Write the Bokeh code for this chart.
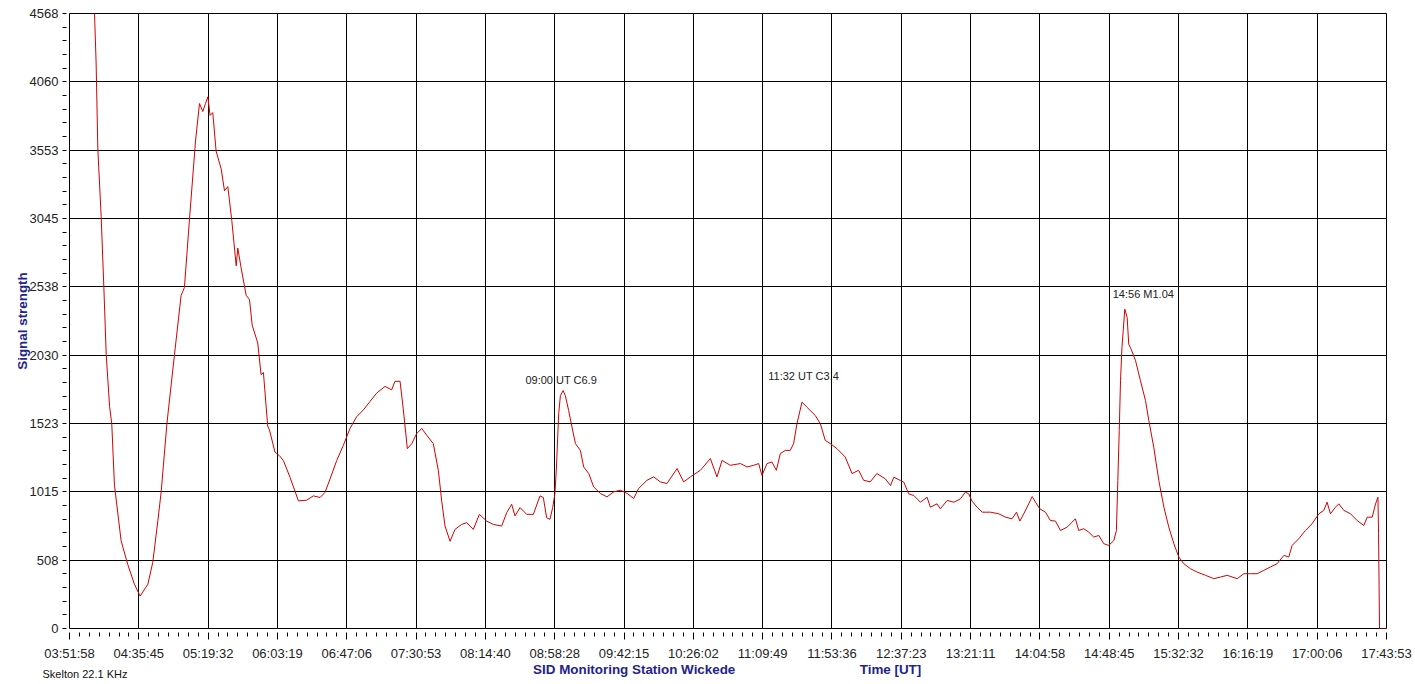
from bokeh.plotting import figure
from bokeh.layouts import column
from bokeh.models import FixedTicker, Label, ColumnDataSource, Range1d
from bokeh.embed import file_html
from bokeh.resources import INLINE

# ---- data -----------------------------------------------------------
x_tick_labels = ["03:51:58", "04:35:45", "05:19:32", "06:03:19", "06:47:06",
                 "07:30:53", "08:14:40", "08:58:28", "09:42:15", "10:26:02",
                 "11:09:49", "11:53:36", "12:37:23", "13:21:11", "14:04:58",
                 "14:48:45", "15:32:32", "16:16:19", "17:00:06", "17:43:53"]
y_tick_labels = [0, 508, 1015, 1523, 2030, 2538, 3045, 3553, 4060, 4568]

# minutes elapsed since 03:51:58 UT
elapsed_min = [
    15.8, 16.8, 17.9, 20.0, 21.7, 23.2, 25.3, 26.7, 28.4, 32.6, 36.8, 41.0, 44.6,
    49.5, 52.6, 55.8, 57.9, 61.5, 66.3, 70.5, 72.6, 75.8, 79.6, 82.1, 84.2, 85.9,
    87.4, 88.8, 90.5, 92.6, 95.8, 97.9, 100.0, 102.5, 105.3, 106.3, 108.4, 111.6,
    113.7, 115.4, 118.9, 121.0, 122.5, 125.2, 126.3, 129.8, 132.6, 135.1, 139.3,
    144.6, 149.8, 154.0, 158.3, 161.4, 164.6, 168.8, 173.0, 177.2, 181.4, 185.6,
    189.8, 194.0, 199.3, 203.5, 205.6, 208.8, 210.9, 213.4, 216.2, 219.3, 222.5,
    225.6, 229.8, 233.0, 235.1, 237.2, 240.4, 243.5, 247.7, 250.9, 255.1, 258.9,
    263.5, 267.7, 273.0, 276.2, 279.3, 281.4, 284.6, 288.8, 293.0, 297.2, 299.3,
    301.4, 303.5, 305.2, 306.6, 307.6, 309.0, 310.1, 311.8, 313.2, 315.3, 317.4,
    319.6, 322.7, 324.8, 328.0, 331.1, 335.3, 339.5, 343.8, 348.0, 352.2, 356.4,
    359.5, 364.8, 369.0, 373.2, 377.4, 383.8, 387.9, 392.2, 398.5, 404.8, 409.0,
    412.2, 417.4, 423.8, 428.0, 432.2, 435.3, 437.4, 440.6, 443.7, 446.5, 449.0,
    452.2, 455.3, 457.4, 459.5, 462.7, 465.8, 471.1, 474.3, 477.4, 480.6, 484.8,
    490.0, 494.3, 498.5, 501.6, 505.8, 510.0, 515.4, 518.6, 520.7, 524.9, 527.0,
    530.1, 533.3, 537.5, 541.7, 543.8, 548.0, 550.1, 554.4, 558.6, 562.8, 565.9,
    568.0, 570.1, 573.3, 576.5, 581.7, 587.0, 591.2, 595.4, 598.2, 600.3, 602.8,
    605.9, 608.1, 610.2, 612.9, 616.5, 619.6, 622.8, 626.0, 630.2, 633.3, 635.4,
    637.5, 640.7, 643.8, 647.0, 650.2, 653.3, 656.5, 659.7, 661.3, 662.2, 663.1,
    663.9, 664.8, 665.6, 666.6, 668.1, 669.1, 670.6, 673.4, 676.5, 679.7, 681.8,
    684.9, 688.1, 691.3, 694.4, 697.6, 700.7, 703.9, 708.1, 712.3, 717.6, 722.8,
    727.0, 731.3, 737.6, 741.8, 746.0, 750.2, 754.4, 758.6, 762.8, 767.1, 770.2,
    772.3, 776.5, 780.7, 784.9, 789.2, 792.3, 794.4, 796.5, 799.7, 801.8, 805.0,
    809.2, 813.4, 817.6, 819.7, 822.9, 825.0, 826.5, 826.9, 827.3, 827.5, 831.9]

signal = [
    4568, 4207, 3561, 3061, 2533, 2033, 1651, 1519, 1064, 652, 476, 329, 241,
    329, 491, 799, 1014, 1519, 2033, 2474, 2533, 3041, 3620, 3899, 3840, 3899,
    3949, 3811, 3832, 3546, 3414, 3252, 3282, 3032, 2694, 2826, 2679, 2474,
    2444, 2253, 2121, 1886, 1901, 1504, 1475, 1310, 1284, 1248, 1123,
    948, 953, 985, 973, 1011, 1111, 1248, 1361, 1486, 1573, 1623,
    1686, 1748, 1798, 1773, 1836, 1836, 1623, 1336, 1373, 1448, 1486,
    1436, 1373, 1173, 948, 761, 648, 736, 773, 786, 736, 848,
    798, 773, 761, 861, 923, 836, 898, 848, 848, 985, 973,
    823, 811, 898, 1000, 1200, 1595, 1730, 1767, 1730, 1619, 1496,
    1373, 1323, 1200, 1151, 1052, 1003, 978, 1015, 1027, 1003, 966,
    1040, 1101, 1126, 1089, 1077, 1188, 1089, 1126, 1175, 1262, 1126,
    1249, 1212, 1225, 1200, 1212, 1225, 1138, 1225, 1237, 1175, 1299,
    1323, 1323, 1373, 1521, 1681, 1644, 1582, 1521, 1397, 1373, 1336,
    1274, 1151, 1175, 1101, 1089, 1151, 1111, 1062, 1124, 1099, 1087,
    1000, 988, 938, 975, 901, 926, 889, 951, 938, 963, 1013,
    1000, 946, 901, 864, 864, 852, 827, 815, 864, 798, 852,
    926, 980, 938, 889, 864, 802, 798, 728, 753, 790, 815,
    728, 741, 716, 679, 691, 630, 617, 654, 728, 1099, 1470,
    1840, 2087, 2211, 2372, 2310, 2112, 2075, 1989, 1840, 1692, 1544,
    1346, 1099, 901, 753, 630, 531, 481, 444, 419, 395, 370,
    382, 395, 370, 407, 407, 407, 432, 457, 481, 543, 531,
    617, 667, 728, 778, 852, 877, 938, 852, 901, 926, 877,
    852, 802, 765, 827, 827, 926, 975, 704, 234, 0, 0]

flare_text = ["09:00 UT C6.9", "11:32 UT C3.4", "14:56 M1.04"]
flare_label_min = [288.0, 441.4, 659.0]
flare_label_val = [1849, 1872, 2481]

station_text = "Skelton 22.1 KHz"
footer_text = ["SID Monitoring Station Wickede", "Time [UT]"]

# ---- helpers --------------------------------------------------------
def secs(s):
    h, m, sec = (int(v) for v in s.split(":"))
    return h * 3600 + m * 60 + sec

t0 = secs(x_tick_labels[0])
x_ticks = [secs(s) - t0 for s in x_tick_labels]
X_SUB = 7
x_minor = []
for a, b in zip(x_ticks[:-1], x_ticks[1:]):
    for k in range(1, X_SUB):
        x_minor.append(a + (b - a) * k / float(X_SUB))
y_minor = []
for a, b in zip(y_tick_labels[:-1], y_tick_labels[1:]):
    for k in range(1, 5):
        y_minor.append(a + (b - a) * k / 5.0)

src = ColumnDataSource(data=dict(x=[m * 60.0 for m in elapsed_min], y=signal))

FONT = "Liberation Sans"
NAVY = "#23238c"

p = figure(frame_width=1317, frame_height=615,
           min_border_left=69, min_border_right=29,
           min_border_top=13, min_border_bottom=33,
           x_range=Range1d(0, x_ticks[-1]), y_range=Range1d(0, y_tick_labels[-1]),
           output_backend="svg", toolbar_location=None)

p.background_fill_color = "white"
p.border_fill_color = "white"
p.outline_line_color = "black"
p.outline_line_width = 1

p.line("x", "y", source=src, line_color="#d40000", line_width=1)

# x axis
xa = p.xaxis[0]
xa.ticker = FixedTicker(ticks=x_ticks, minor_ticks=x_minor)
xa.major_label_overrides = {t: lab for t, lab in zip(x_ticks, x_tick_labels)}
xa.axis_line_color = None
xa.major_tick_line_color = "black"
xa.minor_tick_line_color = "black"
xa.major_tick_in = -4
xa.major_tick_out = 11
xa.minor_tick_in = -4
xa.minor_tick_out = 8
xa.major_label_standoff = 6
xa.major_label_text_font = FONT
xa.major_label_text_font_size = "13px"
xa.major_label_text_color = "#222222"

# y axis
ya = p.yaxis[0]
ya.ticker = FixedTicker(ticks=y_tick_labels, minor_ticks=y_minor)
ya.major_label_overrides = {t: str(t) for t in y_tick_labels}
ya.axis_line_color = None
ya.major_tick_line_color = "black"
ya.minor_tick_line_color = "black"
ya.major_tick_in = -3
ya.major_tick_out = 7
ya.minor_tick_in = -3
ya.minor_tick_out = 7
ya.major_label_standoff = 4
ya.major_label_text_font = FONT
ya.major_label_text_font_size = "13px"
ya.major_label_text_color = "#222222"
ya.axis_label = "Signal strength"
ya.axis_label_standoff = -3
ya.axis_label_text_font = FONT
ya.axis_label_text_font_size = "13.4px"
ya.axis_label_text_font_style = "bold"
ya.axis_label_text_color = NAVY

for g in (p.xgrid[0], p.ygrid[0]):
    g.grid_line_color = "black"
    g.grid_line_width = 1
    g.grid_line_alpha = 1.0

# flare annotations
for txt, xm, yv in zip(flare_text, flare_label_min, flare_label_val):
    p.add_layout(Label(x=xm * 60.0, y=yv, text=txt, text_font=FONT,
                       text_font_size="11px", text_color="#222222",
                       text_align="left", text_baseline="middle"))

# ---- footer strip (frame is aligned with the main frame: 69..1386 px) ----
p2 = figure(width=1415, height=21, x_range=Range1d(69, 1386), y_range=Range1d(21, 0),
            min_border=0, output_backend="svg", toolbar_location=None,
            x_axis_type=None)
p2.outline_line_color = None
p2.background_fill_color = "white"
p2.border_fill_color = "white"
p2.xgrid.visible = False
p2.ygrid.visible = False

sa = p2.yaxis[0]
sa.ticker = FixedTicker(ticks=[10], minor_ticks=[])
sa.major_label_overrides = {10: station_text}
sa.axis_line_color = None
sa.major_tick_line_color = None
sa.minor_tick_line_color = None
sa.major_tick_in = 0
sa.major_tick_out = 0
sa.major_label_standoff = -58
sa.major_label_text_font = FONT
sa.major_label_text_font_size = "11px"
sa.major_label_text_color = "#111111"

footer_x = [633.7, 890.0]
for txt, xc in zip(footer_text, footer_x):
    p2.add_layout(Label(x=xc, y=6, text=txt,
                        text_font=FONT, text_font_size="13.4px", text_font_style="bold",
                        text_color=NAVY, text_align="center", text_baseline="middle"))

open("out.html", "w").write(file_html(column(p, p2, spacing=0), INLINE))
